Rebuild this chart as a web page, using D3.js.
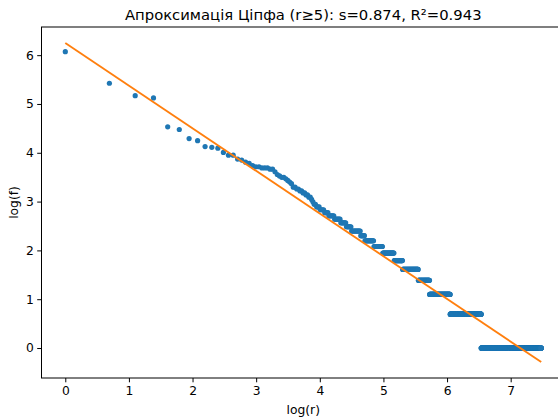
<!DOCTYPE html>
<html>
<head>
<meta charset="utf-8">
<script src="https://cdn.jsdelivr.net/npm/d3@7/dist/d3.min.js"></script>
<style>
  html, body { margin: 0; padding: 0; background: #fff; }
  svg { display: block; }
  text { font-family: "DejaVu Sans", sans-serif; fill: #000; }
</style>
</head>
<body>
<svg id="chart" width="558" height="419"></svg>
<script>
// Frequencies of the top ranks (rank 1..68)
const headFreq = [433,227,176,168,93,88,73,70,62,61,60,55,52,52,48,47,45,44,42,41,
                  41,40,40,40,39,39,37,35,34,33,33,32,31,30,29,27,27,26,26,25,
                  25,24,24,23,23,22,22,21,20,19,19,18,18,18,17,17,17,17,16,16,
                  16,16,15,15,15,15,15,15];
// Tail: frequency value and the last rank that has it
const tailFreq     = [14, 13, 12, 11,  10,   9,   8,   7,   6,   5,   4,   3,   2,    1];
const tailLastRank = [75, 82, 89, 103, 110, 127, 146, 175, 200, 256, 306, 423, 689, 1772];
// Fitted line (r>=5)
const fitSlope = -0.874;
const fitIntercept = 6.25;
const titleText = "Апроксимація Ціпфа (r≥5): s=0.874, R²=0.943";
const xTicks = [0,1,2,3,4,5,6,7];
const yTicks = [0,1,2,3,4,5,6];

// build rank/frequency table
const points = [];
headFreq.forEach((f, i) => points.push({ r: i + 1, f }));
let rank = headFreq.length + 1;
tailFreq.forEach((f, i) => {
  for (; rank <= tailLastRank[i]; rank++) points.push({ r: rank, f });
});
const N = points.length;
const data = points.map(p => ({ x: Math.log(p.r), y: Math.log(p.f) }));
const lineData = [0, Math.log(N)].map(x => ({ x, y: fitIntercept + fitSlope * x }));

const svg = d3.select("#chart");
const L = 41.5, T = 27, W = 523.5, H = 351;

const allX = data.map(d => d.x).concat(lineData.map(d => d.x));
const allY = data.map(d => d.y).concat(lineData.map(d => d.y));
const [x0, x1] = d3.extent(allX), [y0, y1] = d3.extent(allY);
const mx = (x1 - x0) * 0.05, my = (y1 - y0) * 0.05;
const x = d3.scaleLinear().domain([x0 - mx, x1 + mx]).range([L, L + W]);
const y = d3.scaleLinear().domain([y0 - my, y1 + my]).range([T + H, T]);

const defs = svg.append("defs");
defs.append("clipPath").attr("id", "clip").append("rect")
  .attr("x", L).attr("y", T).attr("width", W).attr("height", H);

const plot = svg.append("g").attr("clip-path", "url(#clip)");
plot.append("g").selectAll("circle").data(data).join("circle")
  .attr("cx", d => x(d.x)).attr("cy", d => y(d.y)).attr("r", 2.6)
  .attr("fill", "#1f77b4");
plot.append("path").datum(lineData)
  .attr("d", d3.line().x(d => x(d.x)).y(d => y(d.y)))
  .attr("fill", "none").attr("stroke", "#ff7f0e").attr("stroke-width", 1.85);

// axes
const xAxis = d3.axisBottom(x).tickValues(xTicks).tickFormat(d3.format("d")).tickSize(4.3).tickPadding(3.5);
const yAxis = d3.axisLeft(y).tickValues(yTicks).tickFormat(d3.format("d")).tickSize(4.3).tickPadding(3.5);
const gx = svg.append("g").attr("transform", `translate(0,${T + H})`).call(xAxis);
const gy = svg.append("g").attr("transform", `translate(${L},0)`).call(yAxis);
[gx, gy].forEach(g => {
  g.select(".domain").remove();
  g.selectAll(".tick line").attr("stroke", "#000").attr("stroke-width", 1);
  g.selectAll(".tick text").attr("font-size", "12.3px").attr("fill", "#000")
    .attr("font-family", "DejaVu Sans, sans-serif");
});

// spines
svg.append("rect").attr("x", L).attr("y", T).attr("width", W).attr("height", H)
  .attr("fill", "none").attr("stroke", "#000").attr("stroke-width", 1);

svg.append("text").attr("x", L + W / 2).attr("y", 20).attr("text-anchor", "middle")
  .attr("font-size", "14.8px").text(titleText);
svg.append("text").attr("x", L + W / 2 - 0).attr("y", 414).attr("text-anchor", "middle")
  .attr("font-size", "12.3px").text("log(r)");
svg.append("text").attr("transform", `translate(18,${T + H / 2}) rotate(-90)`)
  .attr("text-anchor", "middle").attr("font-size", "12.3px").text("log(f)");
</script>
</body>
</html>
